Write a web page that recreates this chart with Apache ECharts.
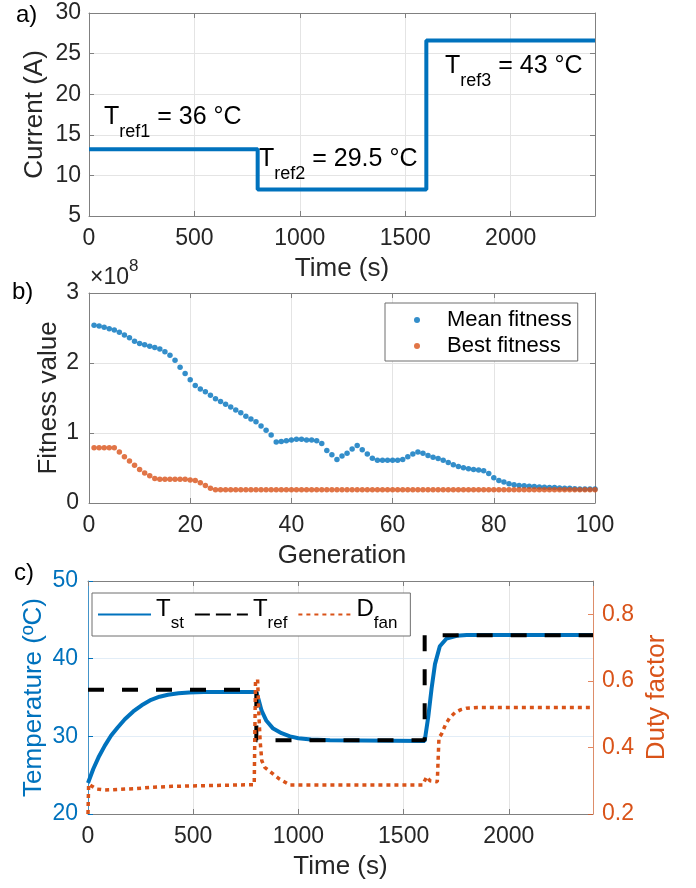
<!DOCTYPE html>
<html>
<head>
<meta charset="utf-8">
<script src="https://cdn.jsdelivr.net/npm/echarts@6/dist/echarts.min.js"></script>
<style>
  html, body { margin: 0; padding: 0; background: #fff; }
  #chart { width: 696px; height: 888px; }
</style>
</head>
<body>
<div id="chart"></div>
<script>
// ---------- (a) stack current profile ----------
const currentTime = [0, 800, 1600, 2400];            // s
const currentAmp  = [13.23, 8.25, 26.6, 26.6];      // A

// ---------- (b) genetic algorithm convergence (values in 1e8) ----------
const generation = [
  1, 2, 3, 4, 5, 6, 7, 8, 9, 10, 11, 12, 13, 14, 15, 16, 17, 18, 19, 20,
  21, 22, 23, 24, 25, 26, 27, 28, 29, 30, 31, 32, 33, 34, 35, 36, 37, 38, 39, 40,
  41, 42, 43, 44, 45, 46, 47, 48, 49, 50, 51, 52, 53, 54, 55, 56, 57, 58, 59, 60,
  61, 62, 63, 64, 65, 66, 67, 68, 69, 70, 71, 72, 73, 74, 75, 76, 77, 78, 79, 80,
  81, 82, 83, 84, 85, 86, 87, 88, 89, 90, 91, 92, 93, 94, 95, 96, 97, 98, 99, 100
];
const meanFitness = [
  2.54, 2.53, 2.51, 2.49, 2.47, 2.44, 2.40, 2.36, 2.31, 2.28,
  2.26, 2.24, 2.22, 2.20, 2.16, 2.11, 2.04, 1.94, 1.85, 1.76,
  1.68, 1.63, 1.59, 1.54, 1.49, 1.45, 1.41, 1.37, 1.33, 1.29,
  1.24, 1.20, 1.16, 1.10, 1.04, 0.97, 0.87, 0.88, 0.89, 0.90,
  0.91, 0.91, 0.90, 0.90, 0.89, 0.85, 0.75, 0.69, 0.62, 0.67,
  0.71, 0.77, 0.82, 0.76, 0.70, 0.64, 0.61, 0.61, 0.61, 0.61,
  0.61, 0.62, 0.66, 0.70, 0.73, 0.71, 0.68, 0.655, 0.635, 0.61,
  0.58, 0.545, 0.52, 0.505, 0.49, 0.48, 0.47, 0.46, 0.42, 0.36,
  0.32, 0.30, 0.275, 0.26, 0.25, 0.245, 0.24, 0.235, 0.23, 0.225,
  0.22, 0.22, 0.215, 0.21, 0.21, 0.205, 0.20, 0.20, 0.20, 0.20
];
const bestFitness = [
  0.79, 0.79, 0.79, 0.79, 0.79, 0.73, 0.66, 0.60, 0.54, 0.48,
  0.43, 0.39, 0.35, 0.34, 0.34, 0.34, 0.34, 0.34, 0.34, 0.33,
  0.32, 0.29, 0.25, 0.21, 0.19, 0.19, 0.19, 0.19, 0.19, 0.19,
  0.19, 0.19, 0.19, 0.19, 0.19, 0.19, 0.19, 0.19, 0.19, 0.19,
  0.19, 0.19, 0.19, 0.19, 0.19, 0.19, 0.19, 0.19, 0.19, 0.19,
  0.19, 0.19, 0.19, 0.19, 0.19, 0.19, 0.19, 0.19, 0.19, 0.19,
  0.19, 0.19, 0.19, 0.19, 0.19, 0.19, 0.19, 0.19, 0.19, 0.19,
  0.19, 0.19, 0.19, 0.19, 0.19, 0.19, 0.19, 0.19, 0.19, 0.19,
  0.19, 0.19, 0.19, 0.19, 0.19, 0.19, 0.19, 0.19, 0.19, 0.19,
  0.19, 0.19, 0.19, 0.19, 0.19, 0.19, 0.19, 0.19, 0.19, 0.19
];

// ---------- (c) stack temperature and fan duty ----------
const tstTime = [0, 25, 50, 80, 110, 140, 175, 215, 255, 300, 340, 380, 430, 480, 550, 800,
                 810, 825, 848, 880, 920, 960, 1000, 1060, 1150, 1600,
                 1604, 1617, 1633, 1649, 1672, 1704, 1752, 1800, 2400];
const tstTemp = [24.0, 25.8, 27.3, 28.8, 30.1, 31.1, 32.2, 33.2, 34.0, 34.7, 35.1, 35.35, 35.55, 35.65, 35.7, 35.7,
                 34.8, 33.3, 32.0, 31.0, 30.4, 30.0, 29.75, 29.6, 29.5, 29.4,
                 29.4, 32.5, 36.2, 39.3, 41.6, 42.6, 42.95, 43.05, 43.05];

const trefTime = [0, 800, 1600, 2400];
const trefTemp = [36, 29.5, 43, 43];

const dfanTime = [0, 3, 15, 40, 80, 150, 220, 300, 400, 540, 700, 790,
                  796, 806, 812, 818, 826, 840, 870, 910, 960, 1590,
                  1600, 1610, 1625, 1660, 1668, 1680, 1700, 1720, 1745, 1770, 1800, 1850, 2400];
const dfanDuty = [0.20, 0.29, 0.285, 0.275, 0.272, 0.274, 0.276, 0.280, 0.283, 0.285, 0.287, 0.288,
                  0.60, 0.605, 0.50, 0.42, 0.36, 0.34, 0.325, 0.305, 0.287, 0.287,
                  0.30, 0.312, 0.300, 0.297, 0.43, 0.44, 0.47, 0.49, 0.505, 0.513, 0.518, 0.52, 0.52];

// ---------- styling ----------
const FONT = 'Liberation Sans, Arial, sans-serif';
const BLUE = '#0072BD';
const ORANGE = '#D95319';
const TEXT = '#262626';
const BOX = '#808080';
const GRID = '#e4e4e4';

const zip = (xs, ys) => xs.map((x, i) => [x, ys[i]]);
const plainNumber = (v) => String(v);

function bottomX(grid, min, max, interval, name) {
  return {
    type: 'value', gridIndex: grid, position: 'bottom', min, max, interval,
    name, nameLocation: 'middle', nameGap: 40, nameMoveOverlap: false,
    nameTextStyle: { fontFamily: FONT, fontSize: 26, color: TEXT },
    axisLine: { show: true, onZero: false, lineStyle: { color: BOX, width: 1 } },
    axisTick: { show: true, inside: true, length: 5, lineStyle: { color: BOX } },
    axisLabel: { fontFamily: FONT, fontSize: 23, color: TEXT, margin: 11,
                 showMaxLabel: max % interval === 0, formatter: plainNumber },
    splitLine: { show: true, lineStyle: { color: GRID, width: 1 } }
  };
}
function topX(grid, min, max, interval) {
  return {
    type: 'value', gridIndex: grid, position: 'top', min, max, interval,
    axisLine: { show: true, onZero: false, lineStyle: { color: BOX, width: 1 } },
    axisTick: { show: true, inside: true, length: 5, lineStyle: { color: BOX } },
    axisLabel: { show: false }, splitLine: { show: false }
  };
}
function leftY(grid, min, max, interval, name, nameGap, color, gridColor, margin) {
  return {
    type: 'value', gridIndex: grid, position: 'left', min, max, interval,
    name, nameLocation: 'middle', nameGap, nameMoveOverlap: false,
    nameTextStyle: { fontFamily: FONT, fontSize: 26, color: color || TEXT },
    axisLine: { show: true, onZero: false, lineStyle: { color: color || BOX, width: 1, opacity: color ? 0.7 : 1 } },
    axisTick: { show: true, inside: true, length: 5, lineStyle: { color: color || BOX } },
    axisLabel: { fontFamily: FONT, fontSize: 23, color: color || TEXT, margin: margin, formatter: plainNumber },
    splitLine: { show: true, lineStyle: { color: gridColor || GRID, width: 1 } }
  };
}
function rightY(grid, min, max, interval) {
  return {
    type: 'value', gridIndex: grid, position: 'right', min, max, interval,
    axisLine: { show: true, onZero: false, lineStyle: { color: BOX, width: 1 } },
    axisTick: { show: true, inside: true, length: 5, lineStyle: { color: BOX } },
    axisLabel: { show: false }, splitLine: { show: false }
  };
}

// rich text helpers for subscripts
const annoRich = {
  m: { fontFamily: FONT, fontSize: 25, verticalAlign: 'top', fill: '#000' },
  s: { fontFamily: FONT, fontSize: 18, verticalAlign: 'bottom', padding: [18, 0, 0, 0], fill: '#000' }
};
function annotation(x, y, sub, rest) {
  return {
    type: 'text', x, y, z: 100,
    style: { text: '{m|T}{s|' + sub + '}{m|' + rest + '}', rich: annoRich, verticalAlign: 'top', align: 'left', fill: '#000' }
  };
}
function panelLabel(x, y, txt) {
  return {
    type: 'text', x, y, z: 100,
    style: { text: txt, fontFamily: FONT, fontSize: 24, fill: '#000', verticalAlign: 'middle', align: 'left' }
  };
}

const legendNames = {
  'T st': '{m|T}{s|st}',
  'T ref': '{m|T}{s|ref}',
  'D fan': '{m|D}{s|fan}'
};

const chart = echarts.init(document.getElementById('chart'), null, { renderer: 'canvas' });

chart.setOption({
  animation: false,
  backgroundColor: '#fff',
  grid: [
    { left: 89, top: 13, width: 506, height: 203 },
    { left: 89, top: 293, width: 506, height: 210 },
    { left: 88, top: 581, width: 505, height: 233 }
  ],
  xAxis: [
    bottomX(0, 0, 2400, 500, 'Time (s)'),
    topX(0, 0, 2400, 500),
    bottomX(1, 0, 100, 20, 'Generation'),
    topX(1, 0, 100, 20),
    bottomX(2, 0, 2400, 500, 'Time (s)'),
    topX(2, 0, 2400, 500)
  ],
  yAxis: [
    leftY(0, 5, 30, 5, 'Current (A)', 41, null, null, 8),
    rightY(0, 5, 30, 5),
    leftY(1, 0, 3, 1, 'Fitness value', 27, null, null, 10),
    rightY(1, 0, 3, 1),
    leftY(2, 20, 50, 10, 'Temperature (ºC)', 41, BLUE, '#e2edf7', 10),
    {
      type: 'value', gridIndex: 2, position: 'right', min: 0.2, max: 0.9, interval: 0.2,
      name: 'Duty factor', nameLocation: 'middle', nameGap: 51, nameMoveOverlap: false,
      nameTextStyle: { fontFamily: FONT, fontSize: 26, color: ORANGE },
      axisLine: { show: true, onZero: false, lineStyle: { color: ORANGE, width: 1, opacity: 0.6 } },
      axisTick: { show: true, inside: true, length: 5, lineStyle: { color: ORANGE, opacity: 0.7 } },
      axisLabel: { fontFamily: FONT, fontSize: 23, color: ORANGE, margin: 9, showMaxLabel: false,
                   formatter: (v) => v.toFixed(1) },
      splitLine: { show: false }
    }
  ],
  legend: [
    {
      orient: 'vertical', left: 385, top: 303,
      padding: [6, 6, 4, 29], itemWidth: 50, itemHeight: 6, itemGap: 4,
      borderColor: '#6e6e6e', borderWidth: 1, backgroundColor: '#fff',
      textStyle: { fontFamily: FONT, fontSize: 22, color: '#000', lineHeight: 22 },
      data: ['Mean fitness', 'Best fitness']
    },
    {
      orient: 'horizontal', left: 92, top: 593,
      padding: [4, 13, 4, 5], itemWidth: 53, itemHeight: 10, itemGap: 10,
      borderColor: '#6e6e6e', borderWidth: 1, backgroundColor: '#fff',
      itemStyle: { opacity: 0 },
      formatter: (name) => legendNames[name],
      textStyle: {
        fontFamily: FONT, fontSize: 24, color: '#000',
        rich: {
          m: { fontFamily: FONT, fontSize: 24, verticalAlign: 'top', color: '#000' },
          s: { fontFamily: FONT, fontSize: 17, verticalAlign: 'bottom', padding: [18, 0, 0, 0], color: '#000' }
        }
      },
      data: [
        { name: 'T st' },
        { name: 'T ref', lineStyle: { type: [15, 6] } },
        { name: 'D fan', lineStyle: { type: [4, 4] } }
      ]
    }
  ],
  series: [
    {
      name: 'Current', type: 'line', xAxisIndex: 0, yAxisIndex: 0, step: 'end',
      showSymbol: false, data: zip(currentTime, currentAmp),
      lineStyle: { color: BLUE, width: 4 }, itemStyle: { color: BLUE }
    },
    {
      name: 'Mean fitness', type: 'scatter', xAxisIndex: 2, yAxisIndex: 2,
      symbol: 'circle', symbolSize: 5.5, data: zip(generation, meanFitness),
      itemStyle: { color: BLUE }
    },
    {
      name: 'Best fitness', type: 'scatter', xAxisIndex: 2, yAxisIndex: 2,
      symbol: 'circle', symbolSize: 5.5, data: zip(generation, bestFitness),
      itemStyle: { color: ORANGE }
    },
    {
      name: 'T st', type: 'line', xAxisIndex: 4, yAxisIndex: 4, showSymbol: false, symbol: 'none',
      data: zip(tstTime, tstTemp),
      lineStyle: { color: BLUE, width: 4 }, itemStyle: { color: BLUE }
    },
    {
      name: 'T ref', type: 'line', xAxisIndex: 4, yAxisIndex: 4, step: 'end', showSymbol: false, symbol: 'none',
      data: zip(trefTime, trefTemp),
      lineStyle: { color: '#000', width: 4, type: [16, 18] }, itemStyle: { color: '#000' }
    },
    {
      name: 'D fan', type: 'line', xAxisIndex: 4, yAxisIndex: 5, showSymbol: false, symbol: 'none',
      data: zip(dfanTime, dfanDuty),
      lineStyle: { color: ORANGE, width: 3.5, type: [4, 4] }, itemStyle: { color: ORANGE }
    }
  ],
  graphic: [
    panelLabel(16, 15, 'a)'),
    panelLabel(12, 292, 'b)'),
    panelLabel(14, 573, 'c)'),
    annotation(104, 105, 'ref1', ' = 36 °C'),
    annotation(259, 147, 'ref2', ' = 29.5 °C'),
    annotation(445, 54, 'ref3', ' = 43 °C'),
    {
      type: 'text', x: 90, y: 258, z: 100,
      style: {
        text: '{a|×10}{b|8}', verticalAlign: 'top', align: 'left',
        rich: {
          a: { fontFamily: FONT, fontSize: 23, verticalAlign: 'bottom', padding: [8, 0, 0, 0], fill: TEXT },
          b: { fontFamily: FONT, fontSize: 17, verticalAlign: 'top', fill: TEXT }
        }
      }
    }
  ]
});
</script>
</body>
</html>
